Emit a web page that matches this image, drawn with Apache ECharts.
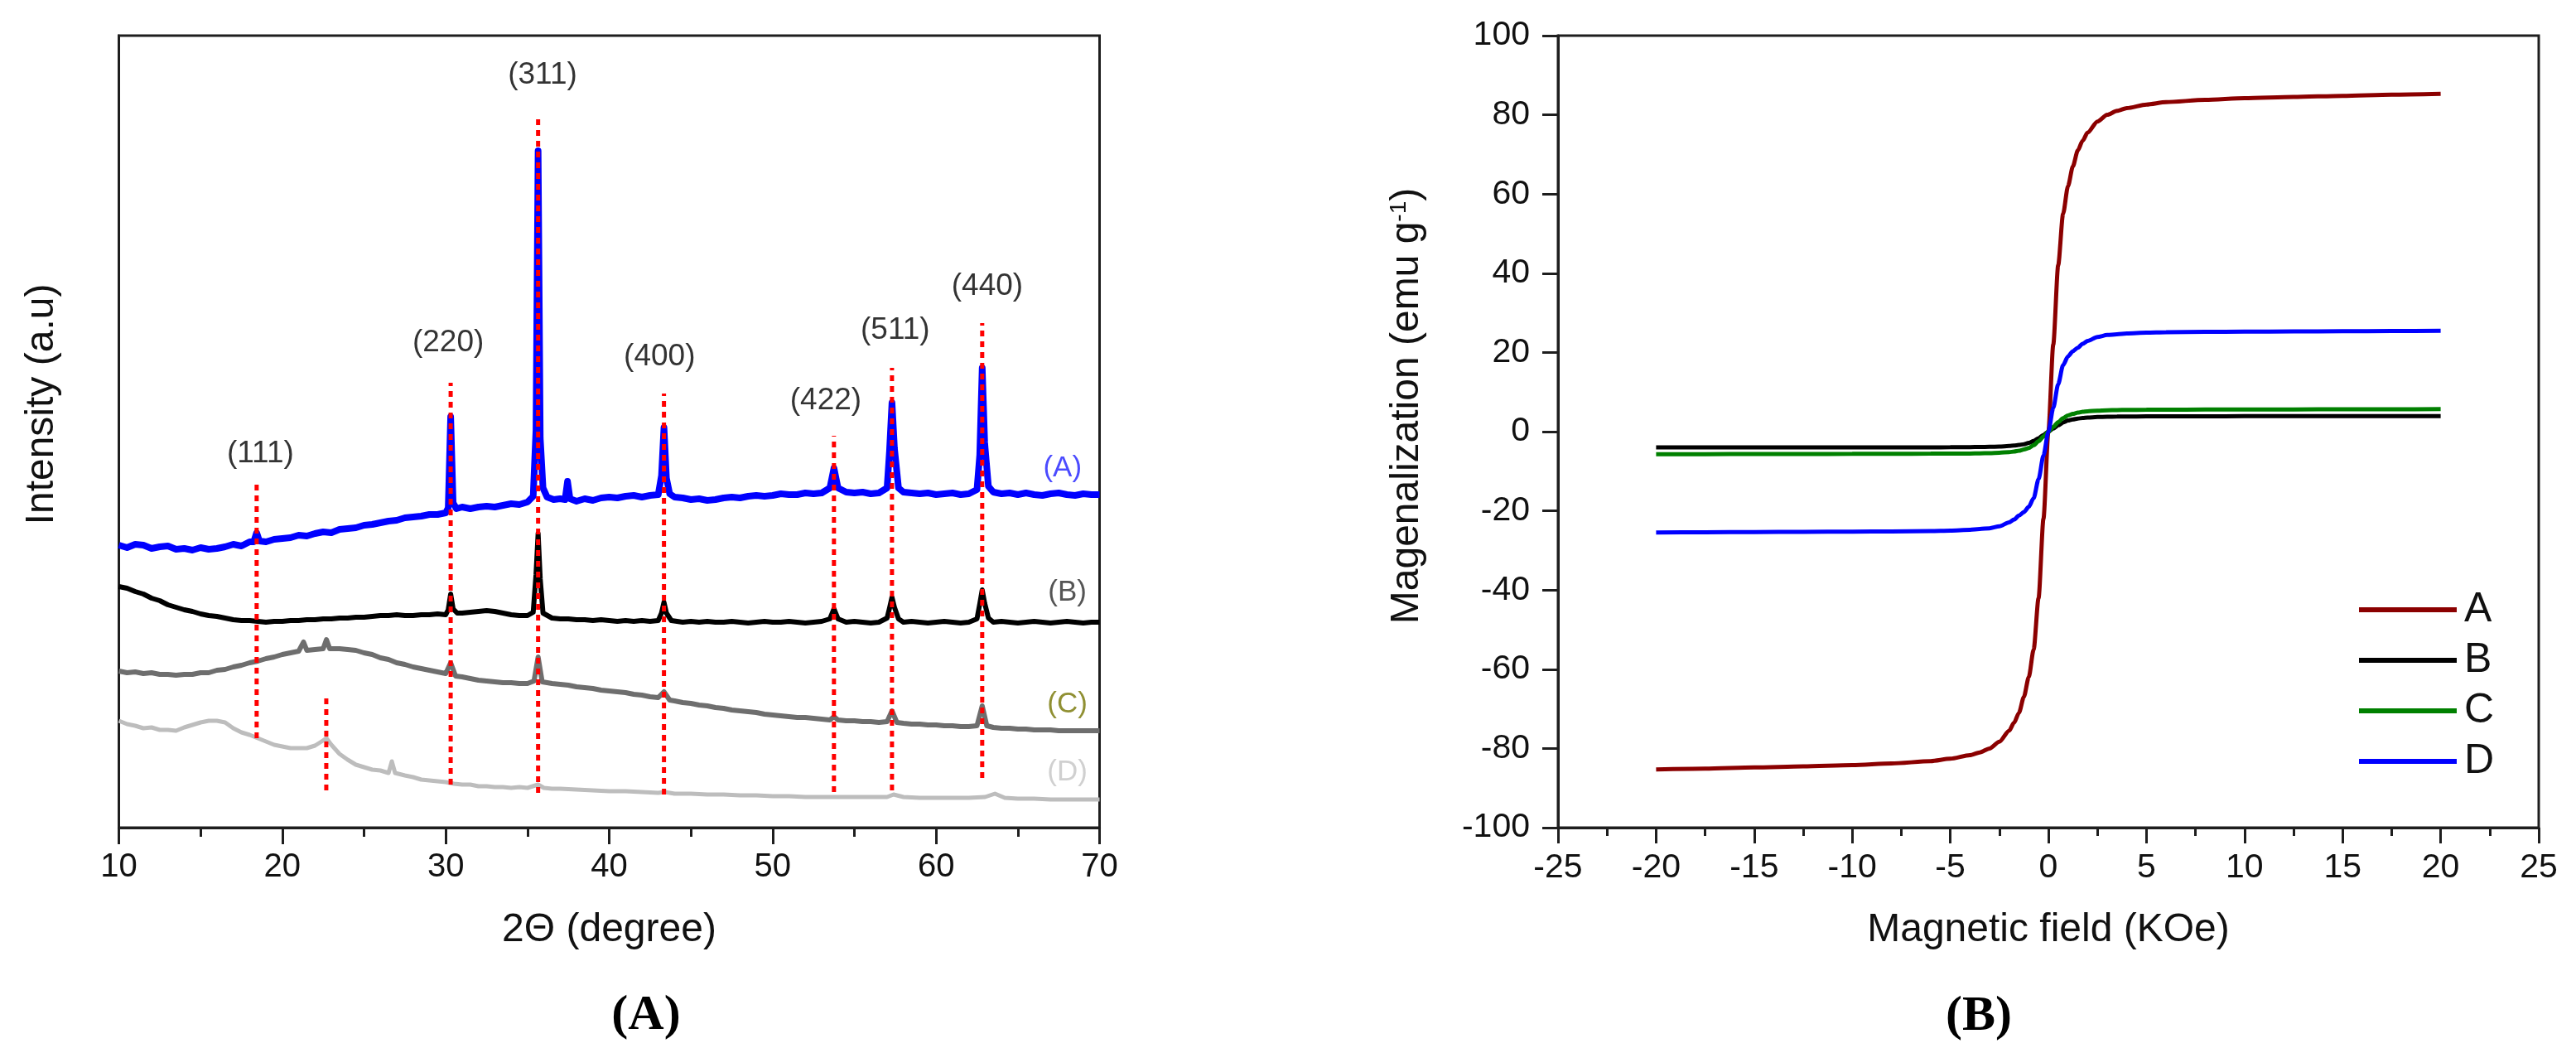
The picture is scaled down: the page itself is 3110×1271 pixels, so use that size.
<!DOCTYPE html>
<html>
<head>
<meta charset="utf-8">
<script src="https://cdn.jsdelivr.net/npm/echarts@6/dist/echarts.min.js"></script>
<style>
html,body{margin:0;padding:0;background:#fff;}
#c{width:3110px;height:1271px;}
</style>
</head>
<body>
<div id="c"></div>
<script>
// ---------- Panel (A): XRD patterns (intensity in arbitrary units) ----------
const xrdA = [[10,341],[10.5,338],[11,342],[11.5,341],[12,337],[12.5,339],[13,340],[13.5,336],[14,337],[14.5,335],[15,338],[15.5,336],[16,337],[16.5,339],[17,342],[17.5,340],[18,345],[18.25,345],[18.43,356],[18.6,346],[19,345],[19.5,348],[20,349],[20.5,350],[21,353],[21.5,352],[22,355],[22.5,357],[23,356],[23.5,360],[24,361],[24.5,362],[25,365],[25.5,366],[26,368],[26.5,370],[27,371],[27.5,374],[28,375],[28.5,376],[29,378],[29.5,378],[30,380],[30.15,386],[30.3,496],[30.45,392],[30.65,385],[31,387],[31.5,385],[32,387],[32.5,388],[33,387],[33.5,389],[34,391],[34.5,390],[35,393],[35.35,400],[35.52,480],[35.65,817],[35.78,470],[35.95,410],[36.2,399],[36.6,396],[37,397],[37.3,396],[37.45,418],[37.6,397],[38,394],[38.5,397],[39,395],[39.5,398],[40,399],[40.5,398],[41,400],[41.5,401],[42,399],[42.5,401],[43,402],[43.2,425],[43.35,483],[43.5,422],[43.7,403],[44,399],[44.5,398],[45,396],[45.5,397],[46,395],[46.5,396],[47,398],[47.5,399],[48,398],[48.5,400],[49,401],[49.5,400],[50,401],[50.5,403],[51,402],[51.5,402],[52,404],[52.5,403],[53,404],[53.5,410],[53.75,434],[54,410],[54.5,405],[55,404],[55.5,405],[56,403],[56.5,404],[57,410],[57.15,455],[57.3,513],[57.45,458],[57.7,410],[58,405],[58.5,404],[59,403],[59.5,404],[60,402],[60.5,403],[61,404],[61.5,402],[62,403],[62.5,408],[62.67,450],[62.82,555],[62.97,465],[63.2,412],[63.5,405],[64,403],[64.5,404],[65,402],[65.5,404],[66,402],[66.5,401],[67,403],[67.5,404],[68,402],[68.5,401],[69,403],[69.5,402],[70,402]];
const xrdB = [[10,291],[10.5,289],[11,285],[11.5,282],[12,277],[12.5,274],[13,269],[13.5,266],[14,263],[14.5,261],[15,258],[15.5,256],[16,255],[16.5,253],[17,251],[17.5,250],[18,250],[18.5,249],[19,248],[19.5,249],[20,249],[20.5,250],[21,250],[21.5,251],[22,251],[22.5,252],[23,252],[23.5,253],[24,253],[24.5,254],[25,254],[25.5,255],[26,256],[26.5,256],[27,257],[27.5,256],[28,256],[28.5,257],[29,257],[29.5,258],[30,257],[30.15,263],[30.3,282],[30.45,264],[30.7,259],[31,259],[31.5,260],[32,261],[32.5,262],[33,261],[33.5,259],[34,257],[34.5,256],[35,256],[35.35,260],[35.52,305],[35.65,355],[35.78,300],[35.95,259],[36.5,253],[37,252],[37.5,252],[38,251],[38.5,251],[39,250],[39.5,251],[40,250],[40.5,249],[41,250],[41.5,249],[42,250],[42.5,249],[43,250],[43.2,259],[43.35,272],[43.5,259],[43.8,250],[44.5,248],[45,249],[45.5,248],[46,249],[46.5,248],[47,248],[47.5,249],[48,248],[48.5,247],[49,248],[49.5,249],[50,248],[50.5,248],[51,249],[51.5,248],[52,247],[52.5,248],[53,249],[53.5,252],[53.75,264],[54,252],[54.5,248],[55,249],[55.5,248],[56,247],[56.5,248],[57,253],[57.15,265],[57.3,278],[57.45,266],[57.7,252],[58,248],[58.5,249],[59,248],[59.5,247],[60,248],[60.5,249],[61,248],[61.5,247],[62,248],[62.5,252],[62.67,270],[62.82,287],[62.97,271],[63.2,253],[63.5,248],[64,249],[64.5,248],[65,247],[65.5,248],[66,249],[66.5,248],[67,247],[67.5,248],[68,249],[68.5,248],[69,247],[69.5,248],[70,248]];
const xrdC = [[10,189],[10.5,187],[11,188],[11.5,186],[12,187],[12.5,185],[13,185],[13.5,184],[14,185],[14.5,185],[15,187],[15.5,187],[16,190],[16.5,191],[17,194],[17.5,196],[18,199],[18.5,201],[19,204],[19.5,206],[20,209],[20.5,211],[21,213],[21.3,224],[21.5,214],[22,215],[22.5,216],[22.7,227],[22.9,216],[23.5,216],[24,215],[24.5,214],[25,211],[25.5,209],[26,205],[26.5,203],[27,199],[27.5,197],[28,194],[28.5,192],[29,190],[29.5,188],[30,186],[30.3,199],[30.6,183],[31,182],[31.5,180],[32,178],[32.5,177],[33,176],[33.5,175],[34,175],[34.5,174],[35,174],[35.4,177],[35.65,206],[35.9,176],[36.5,174],[37,173],[37.5,172],[38,170],[38.5,169],[39,168],[39.5,166],[40,165],[40.5,164],[41,163],[41.5,161],[42,160],[42.5,158],[43,157],[43.35,164],[43.7,154],[44,153],[44.5,151],[45,150],[45.5,148],[46,147],[46.5,145],[47,144],[47.5,142],[48,141],[48.5,140],[49,139],[49.5,137],[50,136],[50.5,135],[51,134],[51.5,133],[52,133],[52.5,132],[53,131],[53.5,130],[53.75,134],[54,130],[54.5,129],[55,129],[55.5,128],[56,128],[56.5,127],[57,128],[57.3,141],[57.6,127],[58,126],[58.5,125],[59,125],[59.5,124],[60,124],[60.5,123],[61,123],[61.5,122],[62,122],[62.5,123],[62.82,147],[63.1,123],[63.5,121],[64,120],[64.5,120],[65,119],[65.5,119],[66,118],[66.5,118],[67,118],[67.5,117],[68,117],[68.5,117],[69,117],[69.5,117],[70,117]];
const xrdD = [[10,129],[10.5,125],[11,123],[11.5,120],[12,121],[12.5,118],[13,118],[13.5,117],[14,121],[14.5,124],[15,127],[15.5,129],[16,129],[16.5,127],[17,120],[17.5,115],[18,112],[18.5,108],[19,104],[19.5,100],[20,98],[20.5,96],[21,96],[21.5,96],[22,99],[22.4,104],[22.7,108],[23,100],[23.5,89],[24,82],[24.5,76],[25,73],[25.5,70],[26,69],[26.5,66],[26.7,80],[26.9,66],[27.5,63],[28,61],[28.5,58],[29,57],[29.5,56],[30,55],[30.5,53],[31,52],[31.5,52],[32,50],[32.5,50],[33,49],[33.5,49],[34,48],[34.5,49],[35,48],[35.65,52],[36,48],[36.5,47],[37,47],[38,46],[39,45],[40,44],[41,44],[42,43],[43,42],[43.4,43],[44,41],[45,41],[46,40],[47,40],[48,39],[49,39],[50,38],[51,38],[52,37],[53,37],[54,37],[55,37],[56,37],[57,37],[57.4,40],[58,37],[59,36],[60,36],[61,36],[62,36],[63,37],[63.6,41],[64.2,36],[65,35],[66,35],[67,34],[68,34],[69,34],[70,34]];

// reflection markers (2θ position, line bottom, line top) and labels
const hklNames   = ['(111)','(220)','(311)','(400)','(422)','(511)','(440)'];
const hklPos     = [18.43, 30.3, 35.65, 43.35, 53.75, 57.3, 62.82];
const hklBottom  = [108, 52, 42, 40, 43, 45, 60];
const hklTop     = [419, 537, 859, 524, 473, 555, 609];
const hklLabelX  = [18.66, 30.15, 35.92, 43.08, 53.25, 57.5, 63.13];
const hklLabelY  = [451, 585, 908, 568, 515, 600, 653];
const extraLine  = [[22.69, 45], [22.69, 158]];

const sampleNames  = ['(A)','(B)','(C)','(D)'];
const sampleLabelX = [67.73, 68.03, 68.03, 68.03];
const sampleLabelY = [434, 284, 149, 67];
const xrdTicks = [10, 20, 30, 40, 50, 60, 70];

// ---------- Panel (B): magnetization curves ----------
const magField = [-20,-17.5,-15,-12.5,-10,-8,-6,-5,-4,-3.5,-3,-2.5,-2,-1.75,-1.5,-1.25,-1,-0.75,-0.5,-0.25,0,0.25,0.5,0.75,1,1.25,1.5,1.75,2,2.5,3,3.5,4,5,6,8,10,12.5,15,17.5,20];
const magA = [-85.3,-85.1,-84.8,-84.5,-84.2,-83.8,-83.2,-82.6,-81.7,-81.0,-80.0,-78.3,-75.5,-73.5,-71,-67,-62,-55,-42,-22,0,22,42,55,62,67,71,73.5,75.5,78.3,80,81,81.7,82.6,83.2,83.8,84.2,84.5,84.8,85.1,85.3];
const magB = [-4.0,-4.0,-4.0,-4.0,-4.0,-3.98,-3.96,-3.94,-3.9,-3.88,-3.83,-3.78,-3.62,-3.52,-3.37,-3.17,-2.85,-2.35,-1.65,-0.82,0,0.8,1.6,2.3,2.8,3.1,3.3,3.45,3.55,3.7,3.75,3.8,3.82,3.85,3.87,3.88,3.9,3.9,3.9,3.9,3.9];
const magC = [-5.7,-5.68,-5.66,-5.64,-5.62,-5.6,-5.57,-5.54,-5.52,-5.47,-5.42,-5.32,-5.17,-5.02,-4.82,-4.52,-4.12,-3.42,-2.42,-1.22,0,1.2,2.4,3.4,4.1,4.5,4.8,5.0,5.15,5.3,5.4,5.45,5.5,5.52,5.55,5.58,5.6,5.62,5.64,5.66,5.68];
const magD = [-25.45,-25.4,-25.35,-25.3,-25.25,-25.2,-25.1,-25.0,-24.8,-24.6,-24.4,-23.9,-22.9,-22.2,-21.2,-20.3,-19,-16.8,-12,-6,0,6,12,16.8,19,20.3,21.2,22.2,22.9,23.9,24.4,24.6,24.8,25.0,25.1,25.2,25.25,25.3,25.35,25.4,25.45];
const magNames = ['A','B','C','D'];
const magColors = ['#8b0000','#000000','#008000','#0000ff'];

// ---------- chart ----------
const FONT = '"Liberation Sans", Arial, sans-serif';
const AX = '#1e1e1e';
const chart = echarts.init(document.getElementById('c'), null, {renderer:'canvas'});

const zip = (xs, ys) => xs.map((x, i) => [x, ys[i]]);

const xrdColors = ['#0000ff', '#000000', '#6e6e6e', '#bdbdbd'];
const xrdWidths = [8, 6, 6, 5];
const xrdSets = [xrdA, xrdB, xrdC, xrdD];
const sampleLabelColors = ['#1e1eff', '#2a2a2a', '#747400', '#c4c4c4'];

const series = [];
xrdSets.forEach((d, i) => {
  series.push({
    name: 'XRD ' + sampleNames[i], type: 'line', xAxisIndex: 0, yAxisIndex: 0,
    data: d, showSymbol: false, symbol: 'none',
    lineStyle: {color: xrdColors[i], width: xrdWidths[i], join: 'round'}, z: 2 + (3 - i)
  });
});
hklPos.forEach((x, i) => {
  series.push({
    name: 'hkl ' + hklNames[i], type: 'line', xAxisIndex: 0, yAxisIndex: 0,
    data: [[x, hklBottom[i]], [x, hklTop[i]]], symbol: 'none',
    lineStyle: {color: '#ff0000', width: 5, type: [7, 6]}, z: 10
  });
});
series.push({
  name: 'hkl extra', type: 'line', xAxisIndex: 0, yAxisIndex: 0,
  data: extraLine, symbol: 'none',
  lineStyle: {color: '#ff0000', width: 5, type: [7, 6]}, z: 10
});
series.push({
  name: 'hkl labels', type: 'scatter', xAxisIndex: 0, yAxisIndex: 0,
  symbolSize: 0, itemStyle: {color: '#000'},
  data: hklNames.map((n, i) => ({name: n, value: [hklLabelX[i], hklLabelY[i]]})),
  label: {show: true, position: 'inside', formatter: '{b}', fontSize: 37, fontFamily: FONT, color: '#000'},
  emphasis: {disabled: true},
  z: 12
});
series.push({
  name: 'sample labels', type: 'scatter', xAxisIndex: 0, yAxisIndex: 0,
  symbolSize: 0, itemStyle: {color: '#000'},
  data: sampleNames.map((n, i) => ({name: n, value: [sampleLabelX[i], sampleLabelY[i]],
    label: {color: sampleLabelColors[i]}})),
  label: {show: true, position: 'inside', formatter: '{b}', fontSize: 35, fontFamily: FONT},
  emphasis: {disabled: true},
  z: 12
});
[magA, magB, magC, magD].forEach((m, i) => {
  series.push({
    name: magNames[i], type: 'line', xAxisIndex: 1, yAxisIndex: 1,
    data: zip(magField, m), symbol: 'none', smooth: 0.25, smoothMonotone: 'x',
    lineStyle: {color: magColors[i], width: 5}, itemStyle: {color: magColors[i]}, z: 3
  });
});

const axisCommon = {
  axisLine: {show: true, onZero: false, lineStyle: {color: AX, width: 3}},
  splitLine: {show: false}
};

const option = {
  animation: false,
  backgroundColor: '#ffffff',
  grid: [
    {left: 143.5, top: 43, width: 1184, height: 956, show: true, borderColor: AX, borderWidth: 3, containLabel: false, outerBoundsMode: 'none'},
    {left: 1881, top: 43, width: 1184, height: 956, show: true, borderColor: AX, borderWidth: 3, containLabel: false, outerBoundsMode: 'none'}
  ],
  xAxis: [
    Object.assign({}, axisCommon, {
      gridIndex: 0, type: 'value', min: xrdTicks[0], max: xrdTicks[xrdTicks.length - 1], interval: 10,
      axisTick: {show: true, length: 20, lineStyle: {color: AX, width: 3}},
      minorTick: {show: true, splitNumber: 2, length: 11, lineStyle: {color: AX, width: 3}},
      minorSplitLine: {show: false},
      axisLabel: {fontSize: 40, fontFamily: FONT, color: '#111', margin: 28},
      name: '2\u0398 (degree)', nameLocation: 'middle', nameGap: 100,
      nameTextStyle: {fontSize: 48, fontFamily: FONT, color: '#111'}
    }),
    Object.assign({}, axisCommon, {
      gridIndex: 1, type: 'value', min: -25, max: 25, interval: 5,
      axisTick: {show: true, length: 19, lineStyle: {color: AX, width: 3}},
      minorTick: {show: true, splitNumber: 2, length: 10, lineStyle: {color: AX, width: 3}},
      minorSplitLine: {show: false},
      axisLabel: {fontSize: 41, fontFamily: FONT, color: '#111', margin: 28},
      name: 'Magnetic field (KOe)', nameLocation: 'middle', nameGap: 100,
      nameTextStyle: {fontSize: 48, fontFamily: FONT, color: '#111'}
    })
  ],
  yAxis: [
    Object.assign({}, axisCommon, {
      gridIndex: 0, type: 'value', min: 0, max: 956,
      axisTick: {show: false}, axisLabel: {show: false}
    }),
    Object.assign({}, axisCommon, {
      gridIndex: 1, type: 'value', min: -100, max: 100, interval: 20,
      axisTick: {show: true, length: 19, lineStyle: {color: AX, width: 3}},
      axisLabel: {fontSize: 41, fontFamily: FONT, color: '#111', margin: 34}
    })
  ],
  legend: {
    data: magNames, orient: 'vertical', left: 2848, top: 711,
    icon: 'rect', itemWidth: 118, itemHeight: 6, itemGap: 11,
    textStyle: {fontSize: 50, fontFamily: FONT, color: '#111', padding: [0, 0, 0, 4]},
    selectedMode: false, padding: 0
  },
  graphic: [
    {type: 'text', x: 51, y: 488, rotation: Math.PI / 2,
     style: {text: 'Intensity (a.u)', fontSize: 48, fontFamily: FONT, fill: '#111', align: 'center', verticalAlign: 'middle'}},
    {type: 'text', x: 1699, y: 490, rotation: Math.PI / 2,
     style: {text: 'Magenalization (emu g{sup|-1})', fontSize: 48, fontFamily: FONT, fill: '#111', align: 'center', verticalAlign: 'middle',
       rich: {sup: {fontSize: 28, fontFamily: FONT, fill: '#111', verticalAlign: 'top'}}}},
    {type: 'text', x: 780, y: 1226,
     style: {text: '(A)', fontSize: 60, fontWeight: 'bold', fontFamily: '"Liberation Serif", "Times New Roman", serif', fill: '#000', align: 'center', verticalAlign: 'middle'}},
    {type: 'text', x: 2389, y: 1227,
     style: {text: '(B)', fontSize: 60, fontWeight: 'bold', fontFamily: '"Liberation Serif", "Times New Roman", serif', fill: '#000', align: 'center', verticalAlign: 'middle'}}
  ],
  series: series
};
chart.setOption(option);
</script>
</body>
</html>
